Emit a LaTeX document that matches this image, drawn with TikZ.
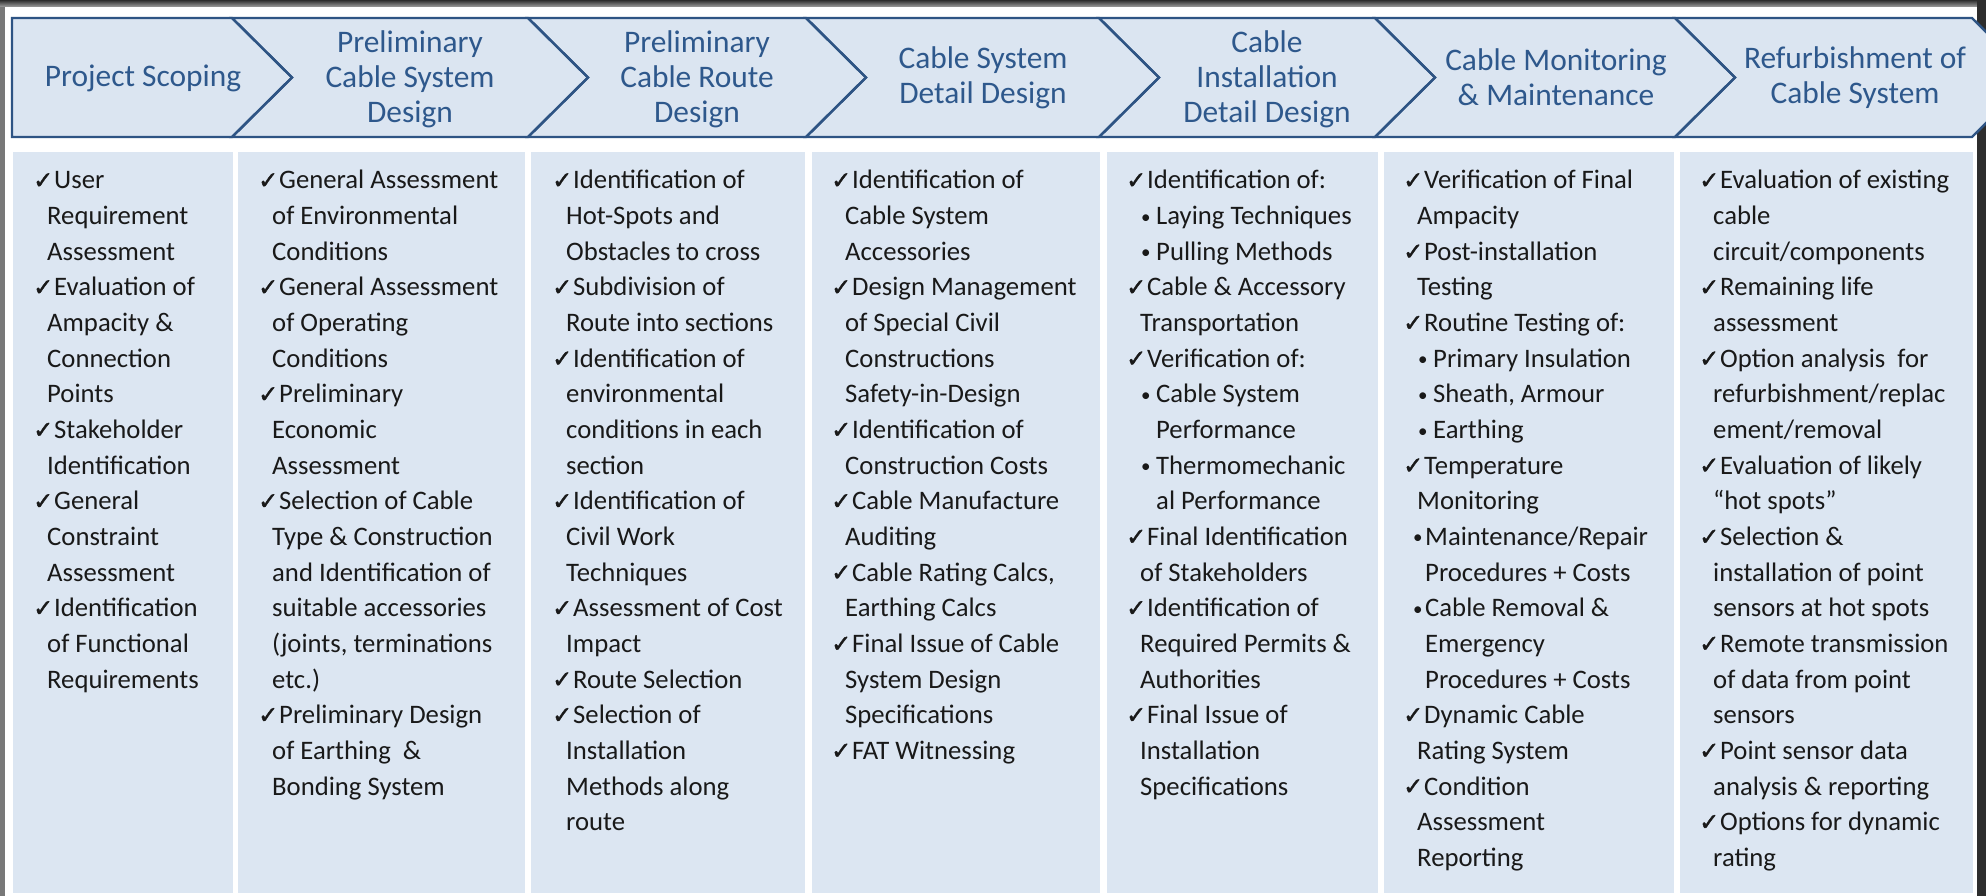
\documentclass[tikz,border=0pt]{standalone}
\usepackage{fontspec}
\setmainfont{Carlito}
\newfontfamily\checkf[FakeBold=1.6]{DejaVu Sans}
\definecolor{hdrfill}{RGB}{219,229,241}
\definecolor{colfill}{RGB}{220,230,242}
\definecolor{hdrline}{RGB}{46,84,132}
\definecolor{hdrtext}{RGB}{46,88,140}
\definecolor{bodytext}{RGB}{25,25,25}
\definecolor{framedark}{RGB}{45,45,45}
\definecolor{framemid}{RGB}{120,120,120}
\newcommand\ck[1]{\hbox{\makebox[21pt][l]{\raisebox{0.5pt}{\checkf\fontsize{24}{24}\selectfont ✓}}#1}}
\newcommand\cn[1]{\hbox{\hspace*{14pt}#1}}
\newcommand\dotb{\raisebox{1.5pt}{\fontsize{19}{19}\selectfont •}}
\newcommand\bu[1]{\hbox{\hspace*{15pt}\makebox[15pt][l]{\dotb}#1}}
\newcommand\bn[1]{\hbox{\hspace*{30pt}#1}}
\newcommand\bv[1]{\hbox{\hspace*{10pt}\makebox[12pt][l]{\dotb}#1}}
\newcommand\bw[1]{\hbox{\hspace*{22pt}#1}}
\newcommand\colbox[1]{\vtop{\baselineskip=35.65pt\lineskiplimit=-100pt\lineskip=0pt #1}}
\tikzset{
  stage/.style={fill=hdrfill},
  stageline/.style={draw=hdrline, line width=2.4pt, line join=miter},
  hdr/.style={text=hdrtext, align=center, inner sep=0pt, font=\fontsize{31.4}{34.8}\selectfont},
  colbg/.style={fill=colfill},
  coltext/.style={text=bodytext, inner sep=0pt, anchor=base west, font=\fontsize{26.7}{35.65}\selectfont},
}
\begin{document}
\begin{tikzpicture}[x=1pt,y=-1pt]
\useasboundingbox (0,0) rectangle (1986,896);
\clip (0,0) rectangle (1986,896);
% frame
\fill[framemid] (0,0) rectangle (1986,896);
\shade[top color=framedark, bottom color=framemid!70] (0,0) rectangle (1986,7);
\fill[framedark] (1977,0) rectangle (1986,896);
\fill[white] (5,7) rectangle (1977,896);
% header chevrons
\def\T{18}\def\B{137}\def\M{77.5}
\path[stage] (12,\T) -- (232,\T) -- (292,\M) -- (232,\B) -- (12,\B) -- cycle;
\foreach \L/\R in {232/528, 528/806, 806/1099, 1099/1375, 1375/1675, 1675/1972}{
  \path[stage] (\L,\T) -- (\R,\T) -- (\R+60,\M) -- (\R,\B) -- (\L,\B) -- (\L+60,\M) -- cycle;
}
\draw[stageline] (12,\T) -- (232,\T) -- (292,\M) -- (232,\B) -- (12,\B) -- cycle;
\foreach \L/\R in {232/528, 528/806, 806/1099, 1099/1375, 1375/1675, 1675/1972}{
  \draw[stageline] (\L,\T) -- (\R,\T) -- (\R+60,\M) -- (\R,\B) -- (\L,\B) -- (\L+60,\M) -- cycle;
}
\node[hdr] (h1) at (143,78) {Project Scoping};
\node[hdr] (h2) at (410,79) {Preliminary\\Cable System\\Design};
\node[hdr] (h3) at (697,79) {Preliminary\\Cable Route\\Design};
\node[hdr] (h4) at (983,78) {Cable System\\Detail Design};
\node[hdr] (h5) at (1267,79) {Cable\\Installation\\Detail Design};
\node[hdr] (h6) at (1556,77.5) {Cable Monitoring\\\& Maintenance};
\node[hdr] (h7) at (1855,78) {Refurbishment of\\Cable System};
% columns
\fill[colbg] (13,152) rectangle (233,893);
\fill[colbg] (238,152) rectangle (525,893);
\fill[colbg] (531,152) rectangle (805,893);
\fill[colbg] (812,152) rectangle (1100,893);
\fill[colbg] (1107,152) rectangle (1378,893);
\fill[colbg] (1384,152) rectangle (1674,893);
\fill[colbg] (1680,152) rectangle (1973,893);
\node[coltext] (c1) at (33,189) {\colbox{%
\ck{User}
\cn{Requirement}
\cn{Assessment}
\ck{Evaluation of}
\cn{Ampacity \&}
\cn{Connection}
\cn{Points}
\ck{Stakeholder}
\cn{Identification}
\ck{General}
\cn{Constraint}
\cn{Assessment}
\ck{Identification}
\cn{of Functional}
\cn{Requirements}}};
\node[coltext] (c2) at (258,189) {\colbox{%
\ck{General Assessment}
\cn{of Environmental}
\cn{Conditions}
\ck{General Assessment}
\cn{of Operating}
\cn{Conditions}
\ck{Preliminary}
\cn{Economic}
\cn{Assessment}
\ck{Selection of Cable}
\cn{Type \& Construction}
\cn{and Identification of}
\cn{suitable accessories}
\cn{(joints, terminations}
\cn{etc.)}
\ck{Preliminary Design}
\cn{of Earthing\ \ \&}
\cn{Bonding System}}};
\node[coltext] (c3) at (552,189) {\colbox{%
\ck{Identification of}
\cn{Hot-Spots and}
\cn{Obstacles to cross}
\ck{Subdivision of}
\cn{Route into sections}
\ck{Identification of}
\cn{environmental}
\cn{conditions in each}
\cn{section}
\ck{Identification of}
\cn{Civil Work}
\cn{Techniques}
\ck{Assessment of Cost}
\cn{Impact}
\ck{Route Selection}
\ck{Selection of}
\cn{Installation}
\cn{Methods along}
\cn{route}}};
\node[coltext] (c4) at (831,189) {\colbox{%
\ck{Identification of}
\cn{Cable System}
\cn{Accessories}
\ck{Design Management}
\cn{of Special Civil}
\cn{Constructions}
\cn{Safety-in-Design}
\ck{Identification of}
\cn{Construction Costs}
\ck{Cable Manufacture}
\cn{Auditing}
\ck{Cable Rating Calcs,}
\cn{Earthing Calcs}
\ck{Final Issue of Cable}
\cn{System Design}
\cn{Specifications}
\ck{FAT Witnessing}}};
\node[coltext] (c5) at (1126,189) {\colbox{%
\ck{Identification of:}
\bu{Laying Techniques}
\bu{Pulling Methods}
\ck{Cable \& Accessory}
\cn{Transportation}
\ck{Verification of:}
\bu{Cable System}
\bn{Performance}
\bu{Thermomechanic}
\bn{al Performance}
\ck{Final Identification}
\cn{of Stakeholders}
\ck{Identification of}
\cn{Required Permits \&}
\cn{Authorities}
\ck{Final Issue of}
\cn{Installation}
\cn{Specifications}}};
\node[coltext] (c6) at (1403,189) {\colbox{%
\ck{Verification of Final}
\cn{Ampacity}
\ck{Post-installation}
\cn{Testing}
\ck{Routine Testing of:}
\bu{Primary Insulation}
\bu{Sheath, Armour}
\bu{Earthing}
\ck{Temperature}
\cn{Monitoring}
\bv{Maintenance/Repair}
\bw{Procedures + Costs}
\bv{Cable Removal \&}
\bw{Emergency}
\bw{Procedures + Costs}
\ck{Dynamic Cable}
\cn{Rating System}
\ck{Condition}
\cn{Assessment}
\cn{Reporting}}};
\node[coltext] (c7) at (1699,189) {\colbox{%
\ck{Evaluation of existing}
\cn{cable}
\cn{circuit/components}
\ck{Remaining life}
\cn{assessment}
\ck{Option analysis\ \ for}
\cn{refurbishment/replac}
\cn{ement/removal}
\ck{Evaluation of likely}
\cn{“hot spots”}
\ck{Selection \&}
\cn{installation of point}
\cn{sensors at hot spots}
\ck{Remote transmission}
\cn{of data from point}
\cn{sensors}
\ck{Point sensor data}
\cn{analysis \& reporting}
\ck{Options for dynamic}
\cn{rating}}};
\end{tikzpicture}
\end{document}
